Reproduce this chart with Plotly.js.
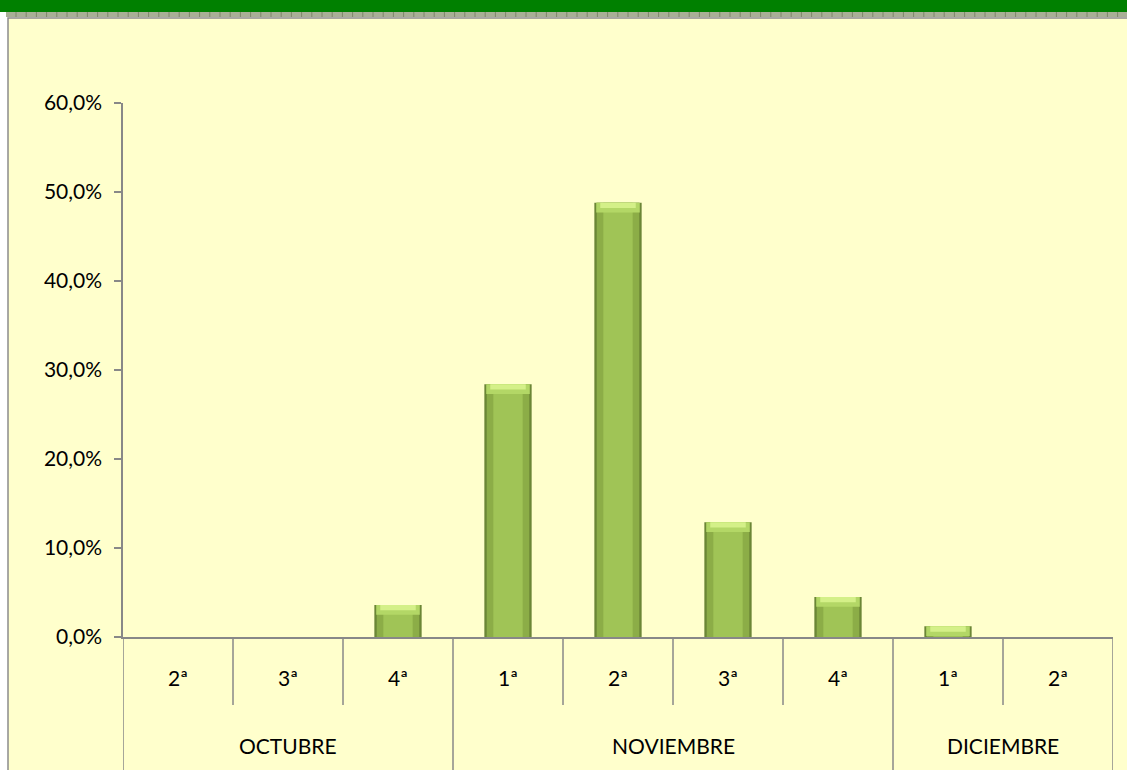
<!DOCTYPE html>
<html>
<head>
<meta charset="utf-8">
<script src="https://cdn.plot.ly/plotly-3.0.1.min.js"></script>
<style>
  html, body { margin: 0; padding: 0; background: #ffffff; }
  #chart { width: 1127px; height: 770px; }
</style>
</head>
<body>
<div id="chart"></div>
<script>
// ---- data ----
const months = ["OCTUBRE", "OCTUBRE", "OCTUBRE", "NOVIEMBRE", "NOVIEMBRE", "NOVIEMBRE", "NOVIEMBRE", "DICIEMBRE", "DICIEMBRE"];
const weeks  = ["2ª", "3ª", "4ª", "1ª", "2ª", "3ª", "4ª", "1ª", "2ª"];
const values = [0, 0, 0.036, 0.284, 0.488, 0.129, 0.045, 0.012, 0];
const yTicks = [0, 0.1, 0.2, 0.3, 0.4, 0.5, 0.6];

// ---- layout geometry (pixels) ----
const W = 1127, H = 770;
const L = 123, R = 1113, T = 103, B = 637;
const px2x = px => (px - L) / (R - L);
const px2y = py => (B - py) / (B - T);

const idx = weeks.map((_, i) => i);
const nz = values.map(v => v > 0 ? v : null);
const barW = 0.43;
const sink = 0.0075;   // bevel depth below axis
const cap = 0.011;     // top bevel height
const cap2 = 0.006;    // bright inner part of top bevel

const font = { family: "Lato, 'Liberation Sans', sans-serif", size: 21, color: "#000000" };

const traces = [
  { // dark outer body (extends slightly below axis like the 3D base)
    type: "bar", x: idx, y: nz.map(v => v === null ? null : v + sink),
    base: nz.map(v => v === null ? null : -sink),
    width: barW, marker: { color: "#6B8636", line: { width: 0 } }, hoverinfo: "skip"
  },
  { // mid tone
    type: "bar", x: idx, y: nz, base: 0,
    width: barW * 0.9, marker: { color: "#8CAD47", line: { width: 0 } }, hoverinfo: "skip"
  },
  { // center highlight
    type: "bar", x: idx, y: nz, base: 0,
    width: barW * 0.62, marker: { color: "#A0C456", line: { width: 0 } }, hoverinfo: "skip"
  },
  { // top bevel rim
    type: "bar", x: idx, y: nz.map(v => v === null ? null : Math.min(cap, v)),
    base: nz.map(v => v === null ? null : v - Math.min(cap, v)),
    width: barW * 0.92, marker: { color: "#B3D766", line: { width: 0 } }, hoverinfo: "skip"
  },
  { // bright top of bevel
    type: "bar", x: idx, y: nz.map(v => v === null ? null : Math.min(cap2, v)),
    base: nz.map(v => v === null ? null : v - Math.min(cap2, v)),
    width: barW * 0.75, marker: { color: "#D4F088", line: { width: 0 } }, hoverinfo: "skip"
  },
  { // value trace (for hover)
    type: "bar", x: idx, y: values, width: barW,
    marker: { color: "rgba(0,0,0,0)" },
    customdata: months.map((m, i) => m + " " + weeks[i]),
    hovertemplate: "%{customdata}: %{y:.1%}<extra></extra>"
  }
];

// ---- decorative frame + category dividers ----
const shapes = [
  // green top band
  { type: "rect", xref: "paper", yref: "paper", x0: px2x(0), x1: px2x(W), y0: px2y(12), y1: px2y(0),
    fillcolor: "#008000", line: { width: 0 }, layer: "below" },
  // patterned strip
  { type: "rect", xref: "paper", yref: "paper", x0: px2x(6), x1: px2x(W), y0: px2y(17), y1: px2y(12),
    fillcolor: "#A9AF96", line: { width: 0 }, layer: "below" },
  // chart area background
  { type: "rect", xref: "paper", yref: "paper", x0: px2x(8), x1: px2x(W + 2), y0: px2y(H + 2), y1: px2y(18),
    fillcolor: "#FFFFCC", line: { color: "#8C8C8C", width: 1.5 }, layer: "below" }
];
for (let p = 16; p < W; p += 10.2) {
  shapes.push({ type: "line", xref: "paper", yref: "paper", x0: px2x(p), x1: px2x(p), y0: px2y(17), y1: px2y(12),
    line: { color: "#7E866A", width: 1 }, layer: "below" });
}
for (let i = 0; i <= weeks.length; i++) {
  const monthEdge = (i === 0 || i === weeks.length || months[i] !== months[i - 1]);
  shapes.push({ type: "line", xref: "x", yref: "paper", x0: i - 0.5, x1: i - 0.5,
    y0: 0, y1: monthEdge ? px2y(H + 2) : px2y(705),
    line: { color: "#888888", width: 1.5 } });
}

// month labels centered under their groups
const annotations = [];
[...new Set(months)].forEach(m => {
  const ii = idx.filter(i => months[i] === m);
  const c = (ii[0] + ii[ii.length - 1]) / 2;
  annotations.push({ x: c, xref: "x", y: px2y(745), yref: "paper", text: m, showarrow: false,
    xanchor: "center", yanchor: "middle", font: font });
});

const layout = {
  width: W, height: H,
  margin: { l: L, r: W - R, t: T, b: H - B, pad: 0 },
  paper_bgcolor: "#FFFFFF",
  plot_bgcolor: "rgba(0,0,0,0)",
  separators: ",.",
  barmode: "overlay",
  showlegend: false,
  font: font,
  xaxis: {
    range: [-0.5, weeks.length - 0.5], fixedrange: true,
    tickmode: "array", tickvals: idx, ticktext: weeks,
    ticks: "", ticklabelstandoff: 22, showgrid: false, zeroline: false,
    showline: true, linecolor: "#888888", linewidth: 1.5,
    tickfont: font
  },
  yaxis: {
    range: [0, 0.6], fixedrange: true,
    tickmode: "array", tickvals: yTicks, tickformat: ".1%",
    ticks: "outside", ticklen: 7, tickcolor: "#888888", tickwidth: 1.5,
    ticklabelstandoff: 8,
    showgrid: false, zeroline: false,
    showline: true, linecolor: "#888888", linewidth: 1.5,
    tickfont: font
  },
  shapes: shapes,
  annotations: annotations
};

Plotly.newPlot("chart", traces, layout, { displayModeBar: false });
</script>
</body>
</html>
